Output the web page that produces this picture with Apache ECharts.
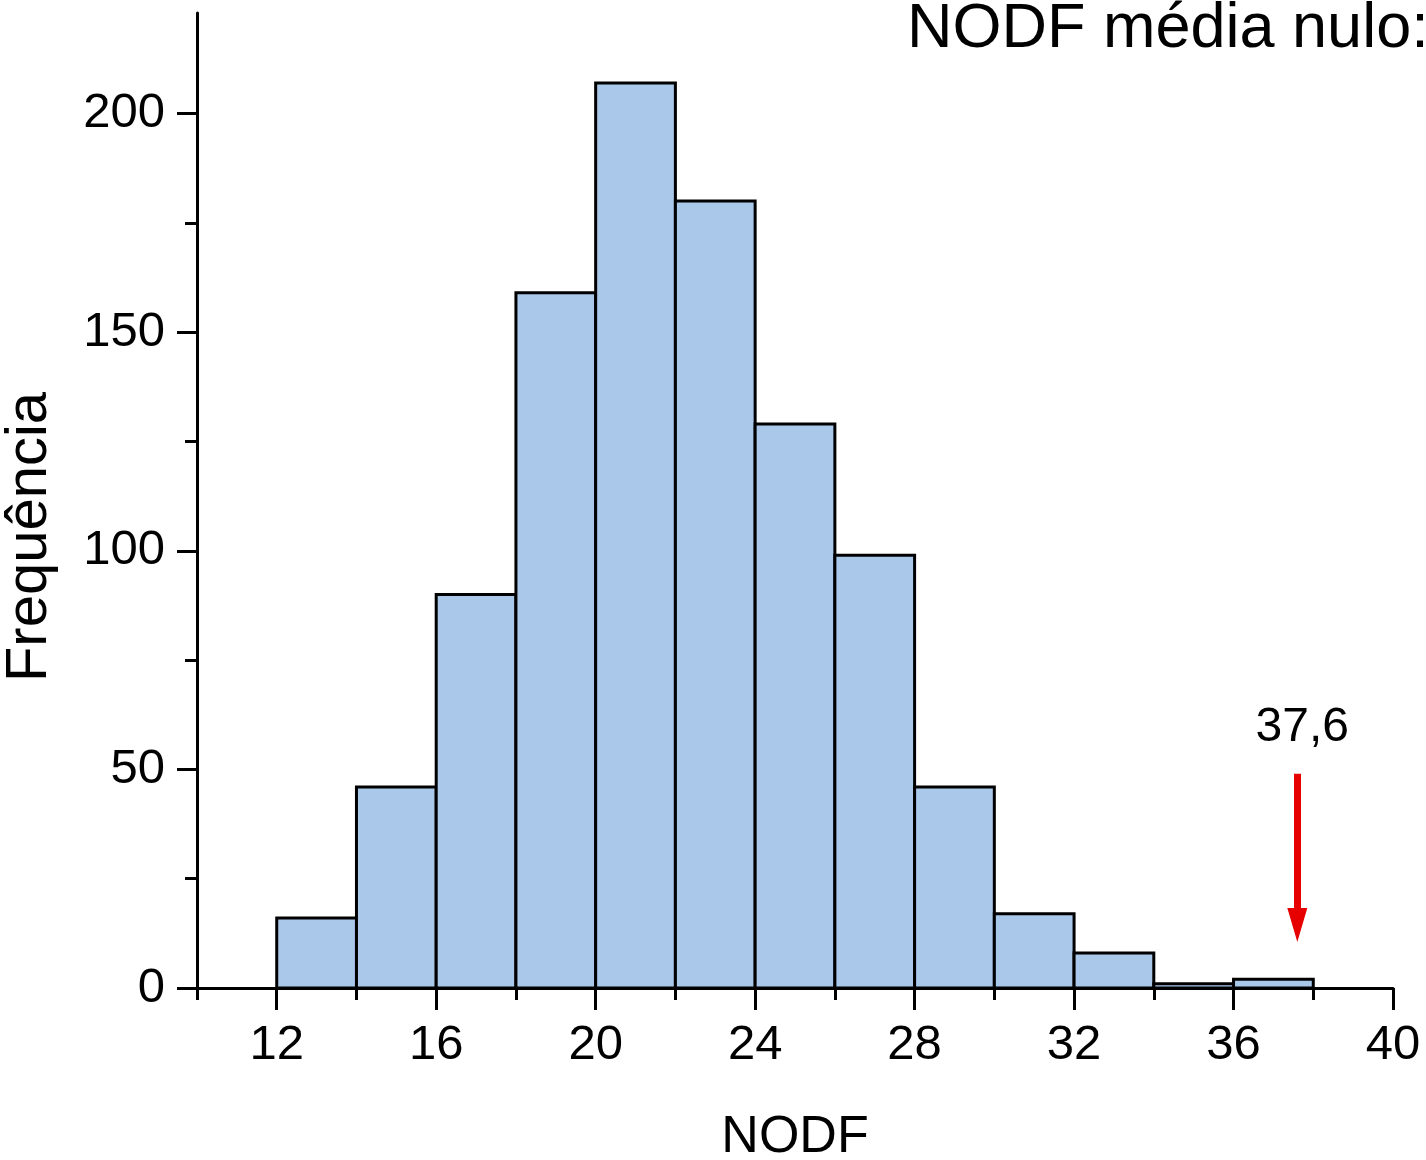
<!DOCTYPE html>
<html>
<head>
<meta charset="utf-8">
<script src="https://cdn.jsdelivr.net/npm/echarts@6/dist/echarts.min.js"></script>
<style>
html,body{margin:0;padding:0;background:#fff;}
#chart{width:1426px;height:1160px;}
</style>
</head>
<body>
<div id="chart"></div>
<script>
// Histogram bins (NODF) and counts
const binStarts = [12, 14, 16, 18, 20, 22, 24, 26, 28, 30, 32, 34, 36];
const binEnds   = [14, 16, 18, 20, 22, 24, 26, 28, 30, 32, 34, 36, 38];
const counts    = [16, 46, 90, 159, 207, 180, 129, 99, 46, 17, 8, 1, 2];

const xMajorTicks = [12, 16, 20, 24, 28, 32, 36, 40];
const xMinorTicks = [10, 14, 18, 22, 26, 30, 34, 38];
const yMajorTicks = [0, 50, 100, 150, 200];
const yMinorTicks = [25, 75, 125, 175];

const observedValue = 37.6;
const observedLabel = '37,6';
const arrowFrom = 49;
const arrowTo = 14.4;

const titleText = 'NODF média nulo:';
const xName = 'NODF';
const yName = 'Frequência';

const FONT = '"Liberation Sans", Arial, sans-serif';

const histData = binStarts.map((s, i) => [s, binEnds[i], counts[i]]);

const chart = echarts.init(document.getElementById('chart'));
chart.setOption({
  animation: false,
  backgroundColor: '#ffffff',
  title: {
    text: titleText,
    left: 902,
    top: -7,
    textStyle: {fontFamily: FONT, fontSize: 63, fontWeight: 'normal', color: '#000'}
  },
  graphic: [
    {
      type: 'text',
      x: 30, y: 537,
      rotation: Math.PI / 2,
      style: {text: yName, fontFamily: FONT, fontSize: 58, fill: '#000', align: 'center', verticalAlign: 'middle'}
    }
  ],
  grid: {left: 197, right: 33, top: 13, bottom: 172, containLabel: false, outerBoundsMode: 'none'},
  xAxis: [
    {
      type: 'value', min: 10, max: 40,
      name: xName, nameLocation: 'middle', nameGap: 124,
      nameTextStyle: {fontFamily: FONT, fontSize: 52, color: '#000'},
      axisLine: {show: true, onZero: false, lineStyle: {color: '#000', width: 3}},
      axisTick: {show: true, customValues: xMinorTicks, length: 12, lineStyle: {color: '#000', width: 3}},
      axisLabel: {show: false},
      splitLine: {show: false}
    },
    {
      type: 'value', min: 10, max: 40, position: 'bottom', offset: 0,
      axisLine: {show: false},
      axisTick: {show: true, customValues: xMajorTicks, length: 22, lineStyle: {color: '#000', width: 3}},
      axisLabel: {show: true, customValues: xMajorTicks, margin: 33, fontFamily: FONT, fontSize: 49, color: '#000'},
      splitLine: {show: false}
    }
  ],
  yAxis: [
    {
      type: 'value', min: 0, max: 223,
      axisLine: {show: true, onZero: false, lineStyle: {color: '#000', width: 3}},
      axisTick: {show: true, customValues: yMinorTicks, length: 12, lineStyle: {color: '#000', width: 3}},
      axisLabel: {show: false},
      splitLine: {show: false}
    },
    {
      type: 'value', min: 0, max: 223, position: 'left', offset: 0,
      axisLine: {show: false},
      axisTick: {show: true, customValues: yMajorTicks, length: 20, lineStyle: {color: '#000', width: 3}},
      axisLabel: {show: true, customValues: yMajorTicks, margin: 32, fontFamily: FONT, fontSize: 49, color: '#000'},
      splitLine: {show: false}
    }
  ],
  series: [
    {
      type: 'custom',
      xAxisIndex: 0, yAxisIndex: 0,
      data: histData,
      encode: {x: [0, 1], y: 2},
      renderItem: function (params, api) {
        const p0 = api.coord([api.value(0), api.value(2)]);
        const p1 = api.coord([api.value(1), 0]);
        return {
          type: 'rect',
          shape: {x: p0[0], y: p0[1], width: p1[0] - p0[0], height: p1[1] - p0[1]},
          style: {fill: '#A9C8EA', stroke: '#000', lineWidth: 3}
        };
      },
      z: 1
    },
    {
      type: 'line',
      xAxisIndex: 0, yAxisIndex: 0,
      data: [],
      markLine: {
        silent: true,
        symbol: ['none', 'triangle'],
        symbolSize: [20, 34],
        lineStyle: {color: '#E60000', width: 7, type: 'solid'},
        label: {show: true, position: 'start', distance: 22, offset: [5, 0], formatter: observedLabel,
          fontFamily: FONT, fontSize: 48, color: '#000'},
        data: [[{coord: [observedValue, arrowFrom]}, {coord: [observedValue, arrowTo]}]]
      }
    }
  ]
});
</script>
</body>
</html>
